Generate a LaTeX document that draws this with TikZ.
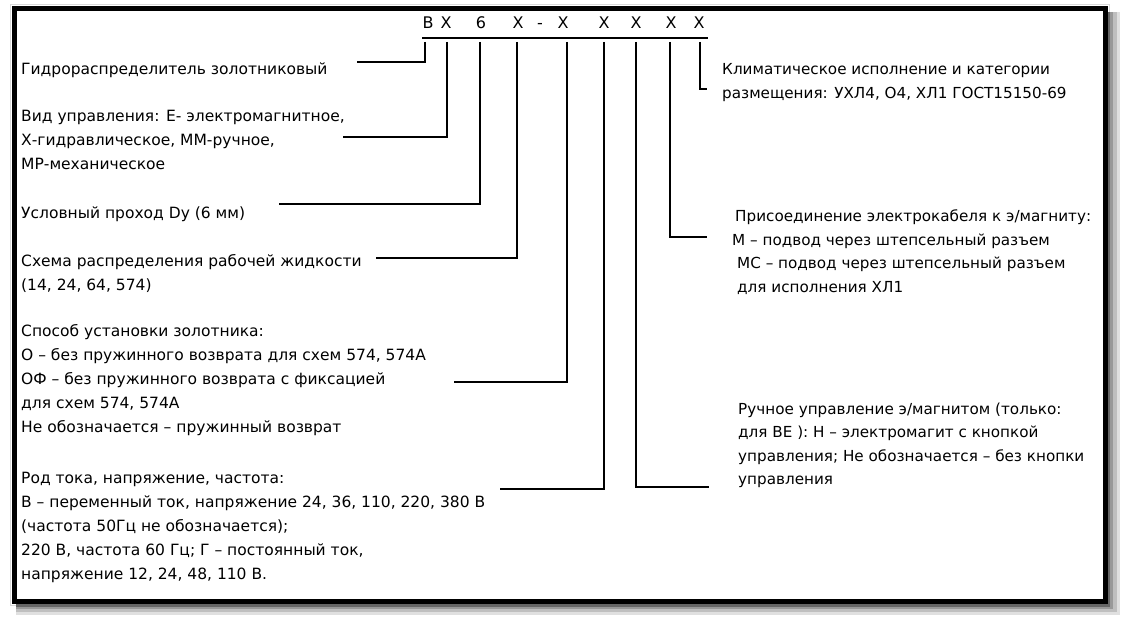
\documentclass[tikz,border=0pt]{standalone}
\usepackage{fontspec}
\setmainfont{DejaVu Sans}
\newcommand{\blk}[1]{\begin{tabular}[t]{@{}l@{}}#1\end{tabular}}
\begin{document}
\begin{tikzpicture}[x=1pt,y=-1pt,
  txt/.style={anchor=base west, inner sep=0pt, font=\fontsize{15.5}{24}\selectfont},
  txtr/.style={anchor=base west, inner sep=0pt, font=\fontsize{15.2}{23.5}\selectfont},
  code/.style={anchor=base, inner sep=0pt, font=\fontsize{16}{18}\selectfont},
  lead/.style={line width=1.7pt, black}]
\useasboundingbox (0,0) rectangle (1127,617);
% shadow and frame
\draw[black!15, line width=1pt] (10,5) rectangle (1109,605);
\fill[black!12] (16,12) rectangle (1120,615);
\fill[black!25] (16,12) rectangle (1117,612);
\fill[black!40] (16,12) rectangle (1113,609);
\fill[black!60] (16,12) rectangle (1110,607);
\filldraw[fill=white, draw=black, line width=5pt] (14,9) rectangle (1105,601);

% code letters
\node[code] (c1) at (428,29) {В};
\node[code] (c2) at (446,29) {Х};
\node[code] (c3) at (481,29) {6};
\node[code] (c4) at (518,29) {Х};
\node[code] (c5) at (540,29) {-};
\node[code] (c6) at (563,29) {Х};
\node[code] (c7) at (604,29) {Х};
\node[code] (c8) at (636,29) {Х};
\node[code] (c9) at (671,29) {Х};
\node[code] (c10) at (699,29) {Х};

\coordinate (ul) at (422,38);
\coordinate (ur) at (708,38);
\draw[lead] (ul) -- (ur);

% left descriptions
\node[txt] (d1) at (21,75) {Гидрораспределитель золотниковый};
\node[txt] (d2) at (21,122) {\blk{Вид управления: Е- электромагнитное,\\Х-гидравлическое, ММ-ручное,\\МР-механическое}};
\node[txt] (d3) at (21,219) {Условный проход Dy (6 мм)};
\node[txt] (d4) at (21,267) {\blk{Схема распределения рабочей жидкости\\(14, 24, 64, 574)}};
\node[txt] (d5) at (21,337) {\blk{Способ установки золотника:\\О – без пружинного возврата для схем 574, 574А\\ОФ – без пружинного возврата с фиксацией\\для схем 574, 574А\\Не обозначается – пружинный возврат}};
\node[txt] (d6) at (21,483) {\blk{Род тока, напряжение, частота:\\В – переменный ток, напряжение 24, 36, 110, 220, 380 В\\(частота 50Гц не обозначается);\\220 В, частота 60 Гц; Г – постоянный ток,\\напряжение 12, 24, 48, 110 В.}};

% right descriptions
\node[txtr] (d7) at (722,75) {\blk{Климатическое исполнение и категории\\размещения: УХЛ4, О4, ХЛ1 ГОСТ15150-69}};
\node[txtr] (d8) at (732,222) {\blk{\hspace{3pt}Присоединение электрокабеля к э/магниту:\\М – подвод через штепсельный разъем\\\hspace{5pt}МС – подвод через штепсельный разъем\\\hspace{5pt}для исполнения ХЛ1}};
\node[txtr] (d9) at (738,414) {\blk{Ручное управление э/магнитом (только:\\для ВЕ ): Н – электромагит с кнопкой\\управления; Не обозначается – без кнопки\\управления}};

% leader lines
\coordinate (v1) at (425,42);  \coordinate (h1) at (357,62);
\coordinate (v2) at (447,42);  \coordinate (h2) at (343,137);
\coordinate (v3) at (480,42);  \coordinate (h3) at (279,204);
\coordinate (v4) at (517,42);  \coordinate (h4) at (376,258);
\coordinate (v5) at (567,42);  \coordinate (h5) at (454,382);
\coordinate (v6) at (604,42);  \coordinate (h6) at (500,489);
\coordinate (v7) at (636,42);  \coordinate (h7) at (709,487);
\coordinate (v8) at (670,42);  \coordinate (h8) at (707,237);
\coordinate (v9) at (700,42);  \coordinate (h9) at (707,89);
\draw[lead] (v1) |- (h1);
\draw[lead] (v2) |- (h2);
\draw[lead] (v3) |- (h3);
\draw[lead] (v4) |- (h4);
\draw[lead] (v5) |- (h5);
\draw[lead] (v6) |- (h6);
\draw[lead] (v7) |- (h7);
\draw[lead] (v8) |- (h8);
\draw[lead] (v9) |- (h9);
\end{tikzpicture}
\end{document}
